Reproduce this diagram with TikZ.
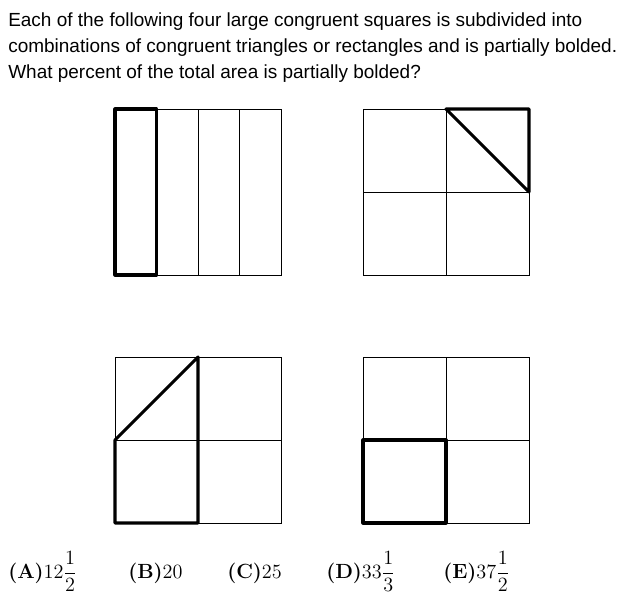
\documentclass[tikz,border=0pt]{standalone}
\usepackage{amsmath}
\usepackage[no-math]{fontspec}
\newfontfamily\questionfont{Liberation Sans}
\begin{document}
\begin{tikzpicture}[x=0.025cm,y=-0.025cm,
    fine/.style={line width=0.7pt},
    heavy/.style={line width=2.2pt,line join=round},
    question/.style={anchor=base west,inner sep=0pt,font=\questionfont\fontsize{13.5}{18.5}\selectfont},
    choice/.style={anchor=base west,inner sep=0pt,font=\fontsize{14.6}{17}\selectfont}]
    \useasboundingbox (0,0) rectangle (633,606);
    \node[question] (line1) at (8,26.7) {Each of the following four large congruent squares is subdivided into};
    \node[question] (line2) at (8,52.3) {combinations of congruent triangles or rectangles and is partially bolded.};
    \node[question] (line3) at (8,78.3) {What percent of the total area is partially bolded?};
    % strips
    \draw[fine] (115,109) rectangle (281,275);
    \draw[fine] (156.5,109) -- (156.5,275);
    \draw[fine] (198,109) -- (198,275);
    \draw[fine] (239.5,109) -- (239.5,275);
    \draw[heavy] (115,109) rectangle (156.5,275);
    % triangle
    \draw[fine] (363,109) rectangle (529,275);
    \draw[fine] (446,109) -- (446,275);
    \draw[fine] (363,192) -- (529,192);
    \draw[heavy] (446,109) -- (529,109) -- (529,192) -- cycle;
    % trapezoid
    \draw[fine] (115,357) rectangle (281,523);
    \draw[fine] (198,357) -- (198,523);
    \draw[fine] (115,440) -- (281,440);
    \draw[heavy] (115,440) -- (198,357) -- (198,523) -- (115,523) -- cycle;
    % square
    \draw[fine] (363,357) rectangle (529,523);
    \draw[fine] (446,357) -- (446,523);
    \draw[fine] (363,440) -- (529,440);
    \draw[heavy] (363,440) rectangle (446,523);
    \node[choice] (choiceA) at (8,578) {\textbf{(A)}$12\dfrac{1}{2}$};
    \node[choice] (choiceB) at (128,578) {\textbf{(B)}$20$};
    \node[choice] (choiceC) at (227,578) {\textbf{(C)}$25$};
    \node[choice] (choiceD) at (326,578) {\textbf{(D)}$33\dfrac{1}{3}$};
    \node[choice] (choiceE) at (443,578) {\textbf{(E)}$37\dfrac{1}{2}$};
\end{tikzpicture}
\end{document}
